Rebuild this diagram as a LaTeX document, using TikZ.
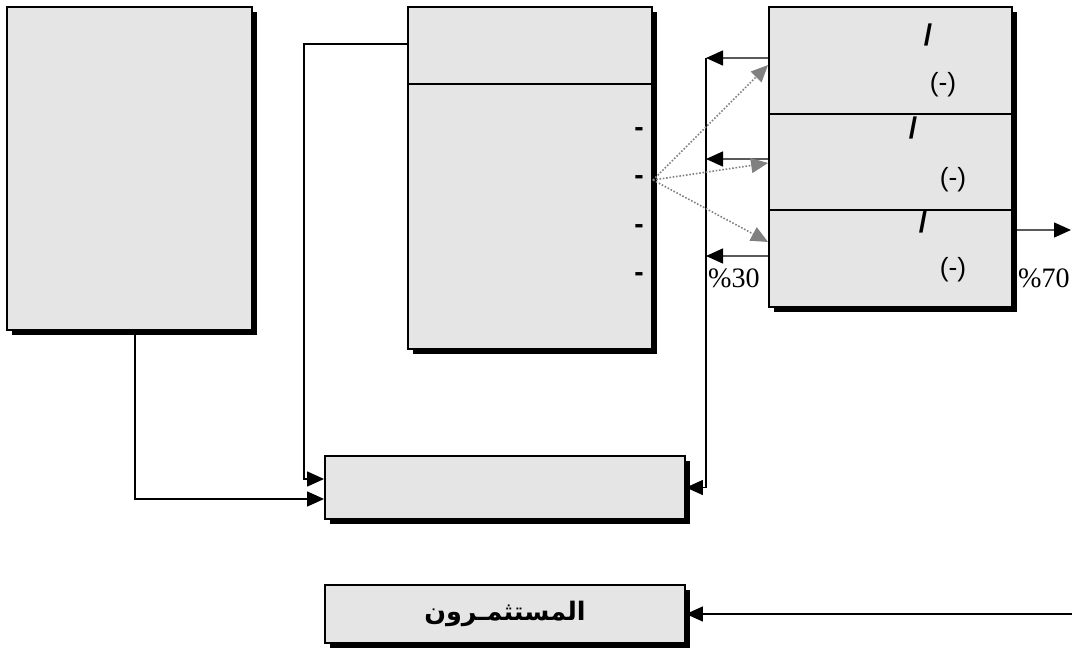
\documentclass[tikz,border=0pt]{standalone}
\usepackage{fontspec}
\setmainfont{Liberation Serif}
\setsansfont{Liberation Sans}
\newfontfamily\arabicfont[Script=Arabic]{DejaVu Sans}
\TeXXeTstate=1
\usetikzlibrary{arrows.meta,shadows,positioning}

\begin{document}
\begin{tikzpicture}[x=0.02cm, y=-0.02cm,
	box/.style={draw, line width=1.1pt, fill=black!10, inner sep=0pt,
		drop shadow={fill=black, opacity=1, shadow xshift=0.1cm, shadow yshift=-0.1cm}},
	arr/.style={-{Triangle[length=0.34cm,width=0.3cm]}, line width=0.8pt},
	dots/.style={-{Triangle[length=0.34cm,width=0.3cm]}, densely dotted, gray, line width=0.9pt},
	lbl/.style={font=\sffamily\fontsize{15}{17}\selectfont, inner sep=0pt},
	pct/.style={font=\fontsize{16}{18}\selectfont, inner sep=0pt}
]
	\useasboundingbox (0,0) rectangle (1072,652);

	% Boxes
	\node[box, minimum width=4.9cm, minimum height=6.46cm] (A) at (129.5,168.5) {};
	\node[box, minimum width=4.88cm, minimum height=6.84cm] (B) at (530,178) {};
	\node[box, minimum width=4.86cm, minimum height=6cm] (C) at (890.5,157) {};
	\node[box, minimum width=7.2cm, minimum height=1.26cm] (E) at (505,487.5) {};
	\node[box, minimum width=7.2cm, minimum height=1.16cm] (F) at (505,614)
		{\arabicfont\bfseries\fontsize{14.5}{16}\selectfont\beginR المستثمـرون\endR};

	% Dividers
	\draw[line width=1pt] (408,84) -- (652,84);
	\draw[line width=1pt] (769,114) -- (1012,114);
	\draw[line width=1pt] (769,210) -- (1012,210);

	% Dashes in B
	\foreach \y [count=\i] in {132,180,229,277}
		\node[lbl, font=\sffamily\bfseries\fontsize{16}{18}\selectfont] (d\i) at (639,\y) {-};

	% Texts in C
	\node[lbl, font=\sffamily\bfseries\fontsize{17}{19}\selectfont] (s1) at (928,35) {/};
	\node[lbl] (m1) at (943,85) {(-)};
	\node[lbl, font=\sffamily\bfseries\fontsize{17}{19}\selectfont] (s2) at (913,128) {/};
	\node[lbl] (m2) at (953,180) {(-)};
	\node[lbl, font=\sffamily\bfseries\fontsize{17}{19}\selectfont] (s3) at (923,222) {/};
	\node[lbl] (m3) at (953,270) {(-)};

	% Percentages
	\node[pct] (p30) at (734,278) {\%30};
	\node[pct] (p70) at (1044,278) {\%70};

	% Feed-back bus
	\coordinate (c1) at (706,58);
	\coordinate (c2) at (706,159);
	\coordinate (c3) at (706,256);
	\draw[arr] ([yshift=1.98cm]C.west) -- (c1);
	\draw[arr] ([yshift=-0.04cm]C.west) -- (c2);
	\draw[arr] ([yshift=-1.98cm]C.west) -- (c3);
	\draw[arr] (c1) |- (E.east);

	% Dotted links
	\draw[dots] ([yshift=-0.04cm]B.east) -- ([yshift=1.84cm]C.west);
	\draw[dots] ([yshift=-0.04cm]B.east) -- ([yshift=-0.12cm]C.west);
	\draw[dots] ([yshift=-0.04cm]B.east) -- ([yshift=-1.7cm]C.west);

	% Into E
	\draw[arr] ([xshift=0.11cm]A.south) |- ([yshift=-0.23cm]E.west);
	\draw[arr] ([yshift=-0.76cm]B.north west) -- ++(-103,0) |- ([yshift=0.17cm]E.west);

	% Out of C
	\coordinate (out) at (1071,230);
	\draw[arr] ([yshift=-1.46cm]C.east) -- (out);

	% Into F
	\coordinate (inv) at (1072,614);
	\draw[arr] (inv) -- (F.east);
\end{tikzpicture}
\end{document}
